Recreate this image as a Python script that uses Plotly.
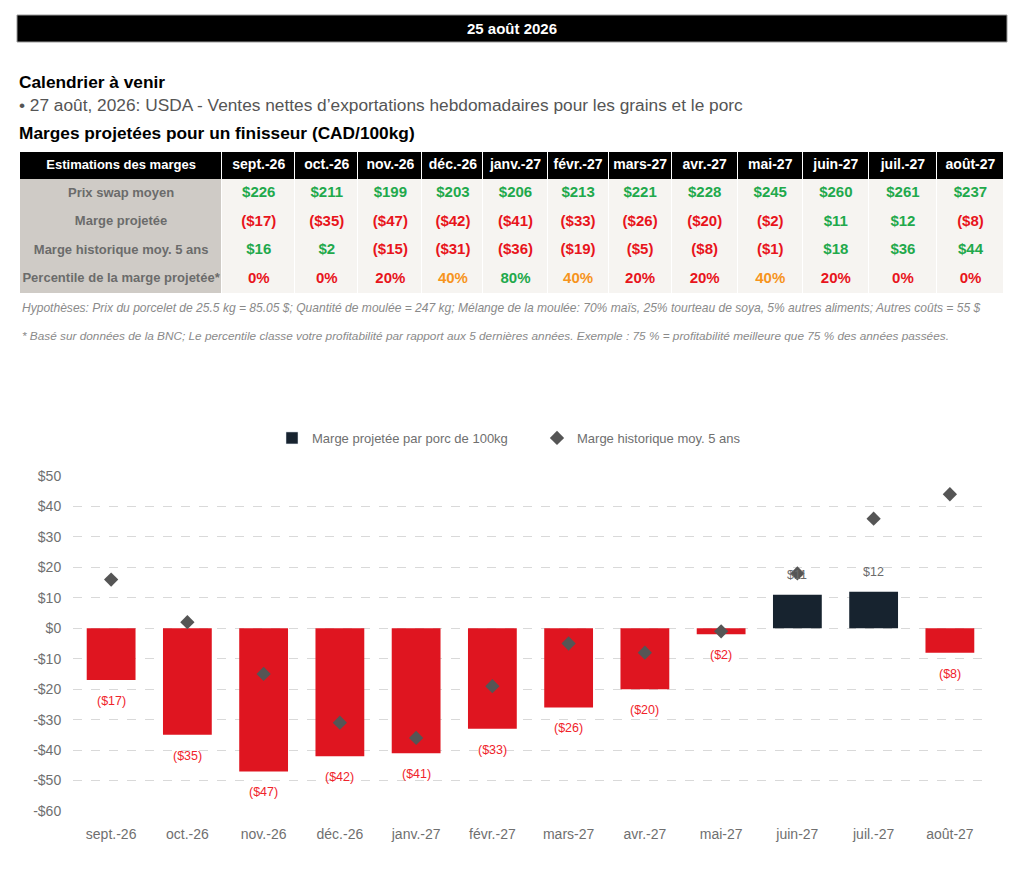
import plotly.graph_objects as go

# ---------------- data ----------------
months = ["sept.-26", "oct.-26", "nov.-26", "déc.-26", "janv.-27", "févr.-27",
          "mars-27", "avr.-27", "mai-27", "juin-27", "juil.-27", "août-27"]
swap_price = [226, 211, 199, 203, 206, 213, 221, 228, 245, 260, 261, 237]
projected_margin = [-17, -35, -47, -42, -41, -33, -26, -20, -2, 11, 12, -8]
historical_margin = [16, 2, -15, -31, -36, -19, -5, -8, -1, 18, 36, 44]
percentile = [0, 0, 20, 40, 80, 40, 20, 20, 40, 20, 0, 0]
row_labels = ["Prix swap moyen", "Marge projetée",
              "Marge historique moy. 5 ans", "Percentile de la marge projetée*"]
table_header_label = "Estimations des marges"
y_tick_values = [50, 40, 30, 20, 10, 0, -10, -20, -30, -40, -50, -60]
y_tick_labels = ["$50", "$40", "$30", "$20", "$10", "$0", "-$10", "-$20",
                 "-$30", "-$40", "-$50", "-$60"]
bar_name = "Marge projetée par porc de 100kg"
hist_name = "Marge historique moy. 5 ans"

# ---------------- styles / layout constants ----------------
# the page body has an 8px margin: the figure is sized/offset so that
# reference pixel positions map directly to the window
OFF = 8
FW, FH = 1008, 868
GREEN = "#1fa94c"
RED = "#e8141c"
ORANGE = "#f7941d"
NAVY = "#17232f"
BAR_RED = "#df1520"
SANS = "Liberation Sans, Arial, Helvetica, sans-serif"
COL_WIDTHS = [202, 73, 63, 64, 61, 64, 61, 63, 66, 65, 66, 68, 67]
ROW_HEIGHTS = [27, 28.5, 28.5, 28.5, 28.5]


def px_x(px):
    return (px - OFF) / FW


def px_y(py):
    return 1 - (py - OFF) / FH


def money(v):
    return f"${v}" if v >= 0 else f"(${-v})"


def money_color(v):
    return GREEN if v >= 0 else RED


def pct_color(p):
    if p >= 60:
        return GREEN
    if p >= 40:
        return ORANGE
    return RED


def edges(sizes):
    out = [0]
    for s in sizes:
        out.append(out[-1] + s)
    return out


fig = go.Figure()

# ---------------- table (drawn on its own hidden axes) ----------------
x_edges = edges(COL_WIDTHS)
y_edges = edges(ROW_HEIGHTS)
x_mid = [(a + b) / 2 for a, b in zip(x_edges[:-1], x_edges[1:])]
y_mid = [(a + b) / 2 for a, b in zip(y_edges[:-1], y_edges[1:])]

n_cols = len(months) + 1
# fill category per cell: 0 header, 1 label column, 2 value cell
fill_z = [[0] * n_cols]
for _ in row_labels:
    fill_z.append([1] + [2] * len(months))

fig.add_trace(go.Heatmap(
    x=x_edges, y=y_edges, z=fill_z, xaxis="x2", yaxis="y2",
    colorscale=[[0, "#000000"], [0.5, "#cfcbc6"], [1, "#f6f4f1"]],
    zmin=0, zmax=2, showscale=False, xgap=1, ygap=0, hoverinfo="skip",
))

t_x, t_y, t_text, t_color, t_size = [], [], [], [], []
header_row = [table_header_label] + months
for j, h in enumerate(header_row):
    t_x.append(x_mid[j]); t_y.append(y_mid[0])
    t_text.append(f"<b>{h}</b>"); t_color.append("white")
    t_size.append(13 if j == 0 else 14)
for r, lab in enumerate(row_labels):
    t_x.append(x_mid[0]); t_y.append(y_mid[r + 1])
    t_text.append(f"<b>{lab}</b>"); t_color.append("#6b6b6b"); t_size.append(13)
for i in range(len(months)):
    vals = [money(swap_price[i]), money(projected_margin[i]),
            money(historical_margin[i]), f"{percentile[i]}%"]
    cols = [money_color(swap_price[i]), money_color(projected_margin[i]),
            money_color(historical_margin[i]), pct_color(percentile[i])]
    for r in range(4):
        t_x.append(x_mid[i + 1]); t_y.append(y_mid[r + 1])
        t_text.append(f"<b>{vals[r]}</b>"); t_color.append(cols[r]); t_size.append(15)

fig.add_trace(go.Scatter(
    x=t_x, y=t_y, text=t_text, mode="text", xaxis="x2", yaxis="y2",
    textposition="middle center",
    textfont=dict(family=SANS, color=t_color, size=t_size),
    showlegend=False, hoverinfo="skip", cliponaxis=False,
))

# ---------------- chart ----------------
bar_colors = [NAVY if v >= 0 else BAR_RED for v in projected_margin]
fig.add_trace(go.Bar(
    x=months, y=projected_margin,
    marker=dict(color=bar_colors, line=dict(width=0)),
    width=0.64, name=bar_name, showlegend=False,
    hoverinfo="x+y",
))
# legend entry for the bar series (navy swatch)
fig.add_trace(go.Bar(
    x=[months[0]], y=[None], marker=dict(color=NAVY), name=bar_name,
    showlegend=True, hoverinfo="skip",
))
fig.add_trace(go.Scatter(
    x=months, y=historical_margin, mode="markers", name=hist_name,
    marker=dict(symbol="diamond", size=11, color="#555555"),
))

# data labels
for m, v in zip(months, projected_margin):
    fig.add_annotation(
        x=m, y=v, xref="x", yref="y", text=money(v), showarrow=False,
        yshift=(20 if v >= 0 else -21),
        font=dict(family=SANS, size=12.5, color=("#6b6b6b" if v >= 0 else "#f0232b")),
    )

fig.update_layout(
    xaxis=dict(
        domain=[px_x(73), px_x(988)], type="category", showgrid=False,
        showline=False, ticks="outside", ticklen=10, tickcolor="rgba(0,0,0,0)",
        tickfont=dict(family=SANS, size=14, color="#6f6f6f"),
        range=[-0.5, len(months) - 0.5], automargin=False, anchor="y",
    ),
    yaxis=dict(
        domain=[px_y(811), px_y(476)], range=[-60, 50],
        tickvals=y_tick_values, ticktext=y_tick_labels,
        showgrid=True, gridcolor="#d9d9d9", griddash="dash", gridwidth=1,
        zeroline=False, showline=False,
        ticks="outside", ticklen=8, tickcolor="rgba(0,0,0,0)",
        tickfont=dict(family=SANS, size=14, color="#6f6f6f"), automargin=False,
        anchor="x",
    ),
    xaxis2=dict(
        domain=[px_x(20), px_x(1004)], range=[x_edges[0], x_edges[-1]],
        visible=False, anchor="y2", fixedrange=True,
    ),
    yaxis2=dict(
        domain=[px_y(293), px_y(152)], range=[y_edges[-1], y_edges[0]],
        visible=False, anchor="x2", fixedrange=True,
    ),
)

# ---------------- header and texts ----------------
fig.add_shape(type="rect", xref="paper", yref="paper",
              x0=px_x(17), x1=px_x(1007), y0=px_y(42), y1=px_y(15),
              fillcolor="#000000", line=dict(color="#9a9a9a", width=1), layer="below")
fig.add_annotation(xref="paper", yref="paper", x=px_x(512), y=px_y(29),
                   xanchor="center", yanchor="middle",
                   text="<b>25 août 2026</b>", showarrow=False,
                   font=dict(family=SANS, size=15, color="white"))
fig.add_annotation(xref="paper", yref="paper", x=px_x(17), y=px_y(82),
                   xanchor="left", yanchor="middle",
                   text="<b>Calendrier à venir</b>", showarrow=False,
                   font=dict(family=SANS, size=17.3, color="#000000"))
fig.add_annotation(xref="paper", yref="paper", x=px_x(17), y=px_y(105),
                   xanchor="left", yanchor="middle",
                   text="• 27 août, 2026: USDA - Ventes nettes d’exportations hebdomadaires pour les grains et le porc",
                   showarrow=False, font=dict(family=SANS, size=17.3, color="#555555"))
fig.add_annotation(xref="paper", yref="paper", x=px_x(17), y=px_y(133),
                   xanchor="left", yanchor="middle",
                   text="<b>Marges projetées pour un finisseur (CAD/100kg)</b>",
                   showarrow=False, font=dict(family=SANS, size=17.3, color="#000000"))
fig.add_annotation(xref="paper", yref="paper", x=px_x(20), y=px_y(308),
                   xanchor="left", yanchor="middle",
                   text="<i>Hypothèses: Prix du porcelet de 25.5 kg = 85.05 $; Quantité de moulée = 247 kg; Mélange de la moulée: 70% maïs, 25% tourteau de soya, 5% autres aliments; Autres coûts = 55 $</i>",
                   showarrow=False, font=dict(family=SANS, size=12.05, color="#8a8a8a"))
fig.add_annotation(xref="paper", yref="paper", x=px_x(20), y=px_y(336),
                   xanchor="left", yanchor="middle",
                   text="<i>* Basé sur données de la BNC; Le percentile classe votre profitabilité par rapport aux 5 dernières années. Exemple : 75 % = profitabilité meilleure que 75 % des années passées.</i>",
                   showarrow=False, font=dict(family=SANS, size=11.8, color="#8a8a8a"))

fig.update_layout(
    width=FW, height=FH, margin=dict(l=0, r=0, t=0, b=0, pad=0, autoexpand=False),
    paper_bgcolor="white", plot_bgcolor="white",
    barmode="overlay",
    showlegend=True,
    legend=dict(
        orientation="h", x=px_x(272), xanchor="left", y=px_y(438), yanchor="middle",
        font=dict(family=SANS, size=13, color="#6f6f6f"),
        entrywidth=220, entrywidthmode="pixels", itemwidth=30,
        bgcolor="rgba(0,0,0,0)",
    ),
    font=dict(family=SANS),
)

fig.write_html("out.html")
